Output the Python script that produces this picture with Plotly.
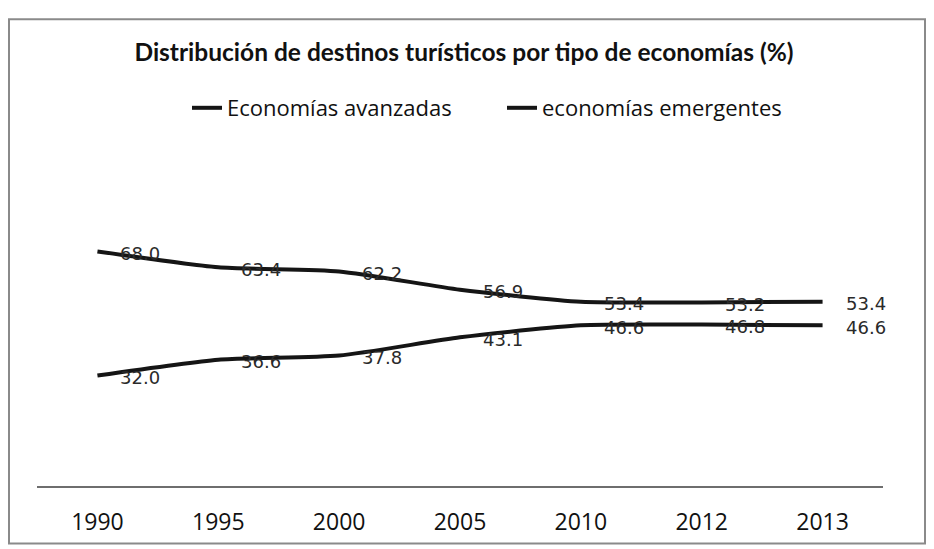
import plotly.graph_objects as go

years = ["1990", "1995", "2000", "2005", "2010", "2012", "2013"]
avanzadas = [68.0, 63.4, 62.2, 56.9, 53.4, 53.2, 53.4]
emergentes = [32.0, 36.6, 37.8, 43.1, 46.6, 46.8, 46.6]
series_names = ["Economías avanzadas", "economías emergentes"]

# page body has an 8px margin, so the figure is a bit smaller than the window
W, H = 926, 541
L, R, T, B = 29, 51, 126, 61
pw, ph = W - L - R, H - T - B

fig = go.Figure()
for name, vals in zip(series_names, [avanzadas, emergentes]):
    fig.add_trace(go.Scatter(
        x=years, y=vals, name=name, mode="lines",
        line=dict(color="#151515", width=4, shape="spline", smoothing=0.6),
    ))
    # labels by category index (string years would be read as numbers)
    for i, yv in enumerate(vals):
        fig.add_annotation(
            x=i, y=yv, text=f"{yv:.1f}", showarrow=False,
            xshift=43, yshift=-2,
            font=dict(family="DejaVu Sans", size=18, color="#2a2a2a"),
        )

# outer frame of the chart
fig.add_shape(
    type="rect", xref="paper", yref="paper",
    x0=(1 - L) / pw, x1=(917 - L) / pw,
    y0=(H - B - 539) / ph, y1=(H - B - 1) / ph,
    line=dict(color="#8a8a8a", width=2), layer="below",
)

fig.update_layout(
    width=W, height=H,
    margin=dict(l=L, r=R, t=T, b=B),
    plot_bgcolor="white", paper_bgcolor="white",
    title=dict(
        text="<b>Distribución de destinos turísticos por tipo de economías (%)</b>",
        x=456 / W, xanchor="center", y=1 - 44 / H, yanchor="middle",
        font=dict(family="Lato", size=24.5, color="#111"),
    ),
    showlegend=True,
    legend=dict(
        orientation="h", x=494 / W, xref="container", xanchor="center",
        y=1 - 100 / H, yref="container", yanchor="middle",
        font=dict(family="Open Sans", size=22, color="#111"),
        entrywidth=270, tracegroupgap=0,
    ),
)
fig.update_xaxes(
    type="category", range=[-0.5, len(years) - 0.5],
    showgrid=False, zeroline=False,
    showline=True, linecolor="#6e6e6e", linewidth=2,
    ticks="", tickfont=dict(family="Open Sans", size=23, color="#111"),
    ticklabelstandoff=14,
)
fig.update_yaxes(range=[0, 100], visible=False, showgrid=False)

fig.write_html("out.html")
